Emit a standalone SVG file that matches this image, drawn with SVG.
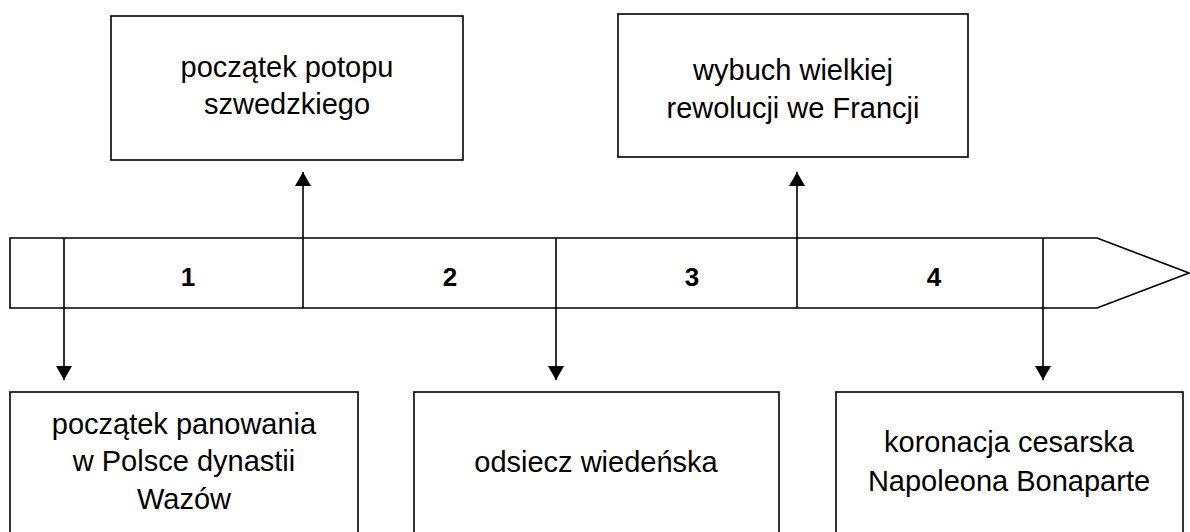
<svg xmlns="http://www.w3.org/2000/svg" width="1190" height="532" viewBox="0 0 1190 532">
<style>
.box{fill:#fff;stroke:#000;stroke-width:1.6}
.ln{fill:none;stroke:#000;stroke-width:1.6}
.t{font-family:"Liberation Sans",Arial,sans-serif;font-size:29px;fill:#000;text-anchor:middle}
.n{font-family:"Liberation Sans",Arial,sans-serif;font-size:26px;font-weight:bold;fill:#000;text-anchor:middle}
</style>
<defs>
<marker id="ah" viewBox="0 0 14 16" refX="14" refY="8" markerWidth="14" markerHeight="16" markerUnits="userSpaceOnUse" orient="auto">
<path d="M0,0 L14,8 L0,16 Z" fill="#000"/>
</marker>
</defs>
<g id="timeline">
<path class="box" d="M10,238 L1097,238 L1189,273 L1097,308 L10,308 Z"/>
<text class="n" x="188" y="286">1</text>
<text class="n" x="450" y="286">2</text>
<text class="n" x="692" y="286">3</text>
<text class="n" x="934" y="286">4</text>
</g>
<g id="connectors">
<line class="ln" x1="64" y1="238" x2="64" y2="380" marker-end="url(#ah)"/>
<line class="ln" x1="303" y1="308" x2="303" y2="172" marker-end="url(#ah)"/>
<line class="ln" x1="556" y1="238" x2="556" y2="380" marker-end="url(#ah)"/>
<line class="ln" x1="797" y1="308" x2="797" y2="172" marker-end="url(#ah)"/>
<line class="ln" x1="1043" y1="238" x2="1043" y2="380" marker-end="url(#ah)"/>
</g>
<g id="top1">
<rect class="box" x="111" y="16" width="352" height="144"/>
<text class="t" x="287" y="77">początek potopu</text>
<text class="t" x="287" y="114">szwedzkiego</text>
</g>
<g id="top2">
<rect class="box" x="618" y="14" width="350" height="143"/>
<text class="t" x="793" y="80">wybuch wielkiej</text>
<text class="t" x="793" y="118">rewolucji we Francji</text>
</g>
<g id="bottom1">
<rect class="box" x="10" y="392" width="348" height="160"/>
<text class="t" x="184" y="434">początek panowania</text>
<text class="t" x="184" y="471">w Polsce dynastii</text>
<text class="t" x="184" y="509">Wazów</text>
</g>
<g id="bottom2">
<rect class="box" x="414" y="392" width="365" height="160"/>
<text class="t" x="596" y="472">odsiecz wiedeńska</text>
</g>
<g id="bottom3">
<rect class="box" x="836" y="392" width="347" height="160"/>
<text class="t" x="1009" y="452">koronacja cesarska</text>
<text class="t" x="1009" y="491">Napoleona Bonaparte</text>
</g>
</svg>
